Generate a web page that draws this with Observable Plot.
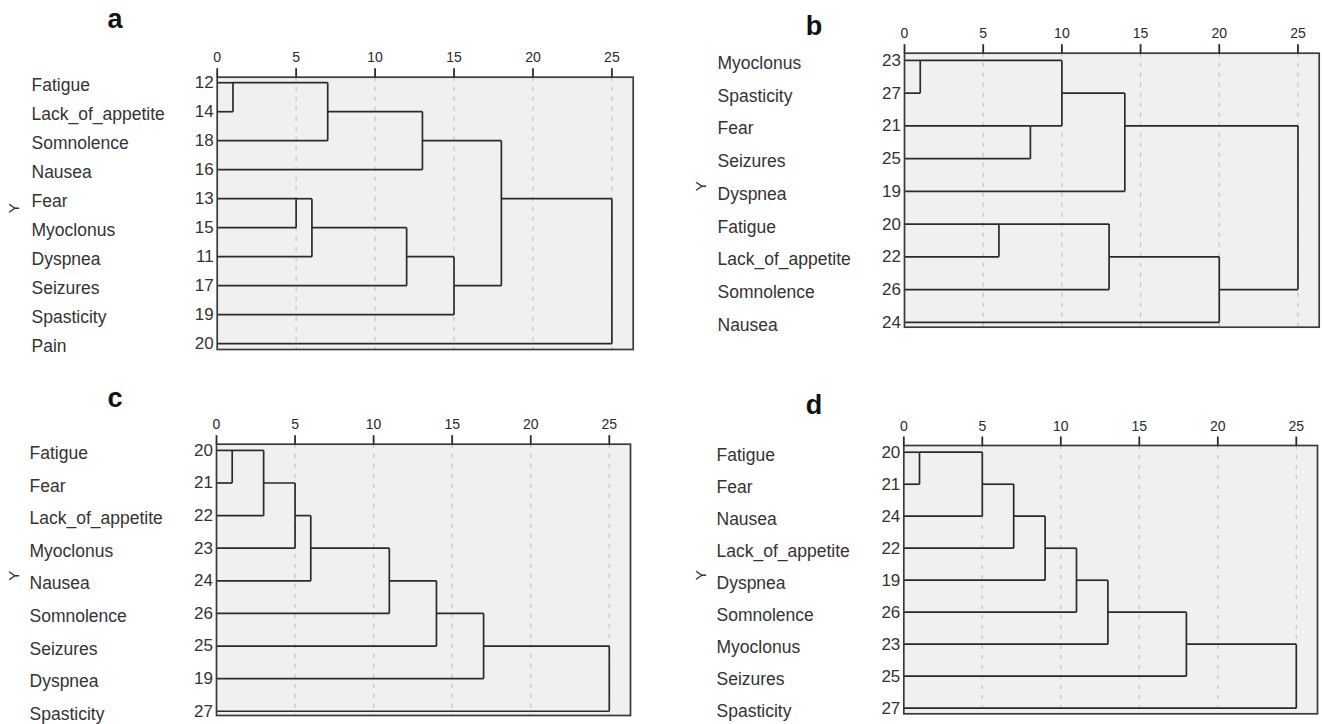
<!DOCTYPE html>
<html>
<head>
<meta charset="utf-8">
<script src="https://cdn.jsdelivr.net/npm/d3@7"></script>
<script src="https://cdn.jsdelivr.net/npm/@observablehq/plot@0.6"></script>
<style>
  body { margin: 0; background: #fff; }
  #wrap { position: relative; width: 1322px; height: 724px; overflow: hidden; font-family: "Liberation Sans", Arial, sans-serif; }
  .panel { position: absolute; }
  .letter { position: absolute; font-weight: bold; font-size: 27px; line-height: 1; color: #111; transform: translateX(-50%); }
</style>
</head>
<body>
<div id="wrap"></div>
<script>
// ---------- data ----------
const xTicks = [0, 5, 10, 15, 20, 25];

// Panel a
const namesA = ["Fatigue", "Lack_of_appetite", "Somnolence", "Nausea", "Fear", "Myoclonus", "Dyspnea", "Seizures", "Spasticity", "Pain"];
const idsA = [12, 14, 18, 16, 13, 15, 11, 17, 19, 20];
// agglomeration: [cluster 1, cluster 2, rescaled distance]
const mergesA = [[12, 14, 1], [12, 18, 7], [12, 16, 13], [13, 15, 5], [13, 11, 6], [13, 17, 12], [13, 19, 15], [12, 13, 18], [12, 20, 25]];

// Panel b
const namesB = ["Myoclonus", "Spasticity", "Fear", "Seizures", "Dyspnea", "Fatigue", "Lack_of_appetite", "Somnolence", "Nausea"];
const idsB = [23, 27, 21, 25, 19, 20, 22, 26, 24];
const mergesB = [[23, 27, 1], [21, 25, 8], [23, 21, 10], [23, 19, 14], [20, 22, 6], [20, 26, 13], [20, 24, 20], [23, 20, 25]];

// Panel c
const namesC = ["Fatigue", "Fear", "Lack_of_appetite", "Myoclonus", "Nausea", "Somnolence", "Seizures", "Dyspnea", "Spasticity"];
const idsC = [20, 21, 22, 23, 24, 26, 25, 19, 27];
const mergesC = [[20, 21, 1], [20, 22, 3], [20, 23, 5], [20, 24, 6], [20, 26, 11], [20, 25, 14], [20, 19, 17], [20, 27, 25]];

// Panel d
const namesD = ["Fatigue", "Fear", "Nausea", "Lack_of_appetite", "Dyspnea", "Somnolence", "Myoclonus", "Seizures", "Spasticity"];
const idsD = [20, 21, 24, 22, 19, 26, 23, 25, 27];
const mergesD = [[20, 21, 1], [20, 24, 5], [20, 22, 7], [20, 19, 9], [20, 26, 11], [20, 23, 13], [20, 25, 18], [20, 27, 25]];

// ---------- dendrogram segments (SPSS style) ----------
function dendroSegments(ids, merges) {
  const row = new Map(ids.map((id, i) => [id, i]));
  const xAt = new Map(ids.map(id => [id, 0]));
  const segs = [];
  for (const [a, b, d] of merges) {
    const ya = row.get(a), yb = row.get(b);
    segs.push({x1: xAt.get(a), x2: d, y1: ya, y2: ya});
    segs.push({x1: xAt.get(b), x2: d, y1: yb, y2: yb});
    segs.push({x1: d, x2: d, y1: ya, y2: yb});
    row.set(a, Math.floor((ya + yb) / 2));
    xAt.set(a, d);
  }
  return segs;
}

const wrap = document.getElementById("wrap");

function panel(cfg) {
  const n = cfg.names.length;
  const idx = d3.range(n);
  const segs = dendroSegments(cfg.ids, cfg.merges);
  const frameH = cfg.h - cfg.mt - cfg.mb;
  const yTop = -cfg.pt;
  const yBot = n - 1 + cfg.pb;
  const unitsPerPx = (yBot - yTop) / frameH;
  const tickLen = 9;
  const tickData = xTicks.map(v => ({x: v, y1: yTop, y2: yTop - tickLen * unitsPerPx}));
  const chart = Plot.plot({
    width: cfg.w, height: cfg.h,
    marginLeft: cfg.ml, marginRight: cfg.mr, marginTop: cfg.mt, marginBottom: cfg.mb,
    x: {domain: [0, 26.35], axis: null},
    y: {domain: [yTop, yBot], reverse: true, axis: null},
    style: {fontFamily: '"Liberation Sans", Arial, sans-serif', background: "transparent", color: "#333", overflow: "visible"},
    marks: [
      Plot.frame({fill: "#f0f0f0"}),
      Plot.ruleX(xTicks.slice(1), {stroke: "#c2c2c2", strokeWidth: 1.2, strokeDasharray: "4,6"}),
      Plot.link(segs, {x1: "x1", y1: "y1", x2: "x2", y2: "y2", stroke: "#2a2a2a", strokeWidth: 1.7}),
      Plot.frame({stroke: "#3a3a3a", strokeWidth: 1.7}),
      // x ticks above the frame
      Plot.link(tickData, {x1: "x", x2: "x", y1: "y1", y2: "y2", stroke: "#2a2a2a", strokeWidth: 1.8, clip: false}),
      Plot.axisX(xTicks, {anchor: "top", tickSize: 0, tickPadding: 15, fill: "#2a2a2a", fontSize: 14, label: null}),
      Plot.axisY(idx, {anchor: "left", tickFormat: i => String(cfg.ids[i]), tickSize: 0, tickPadding: 3.5, fontSize: 17, fill: "#333", label: null}),
      Plot.axisY(idx, {anchor: "left", tickFormat: i => cfg.names[i], tickSize: 0, tickPadding: 0, dx: cfg.nameX - cfg.ml, dy: 3, textAnchor: "start", fontSize: 17.5, fill: "#333", label: null}),
      Plot.text([(n - 1) / 2], {y: d => d, frameAnchor: "left", text: () => "Y", rotate: -90, dx: cfg.yX - cfg.ml, fontSize: 15, fill: "#333"})
    ]
  });
  const div = document.createElement("div");
  div.className = "panel";
  div.style.left = cfg.left + "px";
  div.style.top = cfg.top + "px";
  div.appendChild(chart);
  wrap.appendChild(div);

  const L = document.createElement("div");
  L.className = "letter";
  L.textContent = cfg.letter;
  L.style.left = cfg.letterX + "px";
  L.style.top = (cfg.letterBase - 22.9) + "px";
  wrap.appendChild(L);
}

panel({letter: "a", letterX: 115, letterBase: 29, names: namesA, ids: idsA, merges: mergesA,
  left: 0, top: 0, w: 661, h: 362, ml: 216.7, mr: 28.3, mt: 76.7, mb: 13, pt: 0.19, pb: 0.2, nameX: 31, yX: 13.5});
panel({letter: "b", letterX: 814, letterBase: 36, names: namesB, ids: idsB, merges: mergesB,
  left: 661, top: 0, w: 661, h: 362, ml: 243, mr: 3.3, mt: 52.7, mb: 35.3, pt: 0.22, pb: 0.15, nameX: 56, yX: 40});
panel({letter: "c", letterX: 115, letterBase: 408, names: namesC, ids: idsC, merges: mergesC,
  left: 0, top: 362, w: 661, h: 362, ml: 216, mr: 31, mt: 81.7, mb: 9, pt: 0.19, pb: 0.13, nameX: 29, yX: 13.5});
panel({letter: "d", letterX: 814, letterBase: 415, names: namesD, ids: idsD, merges: mergesD,
  left: 661, top: 362, w: 661, h: 362, ml: 242.3, mr: 5, mt: 83, mb: 10.7, pt: 0.21, pb: 0.175, nameX: 55, yX: 40});
</script>
</body>
</html>
